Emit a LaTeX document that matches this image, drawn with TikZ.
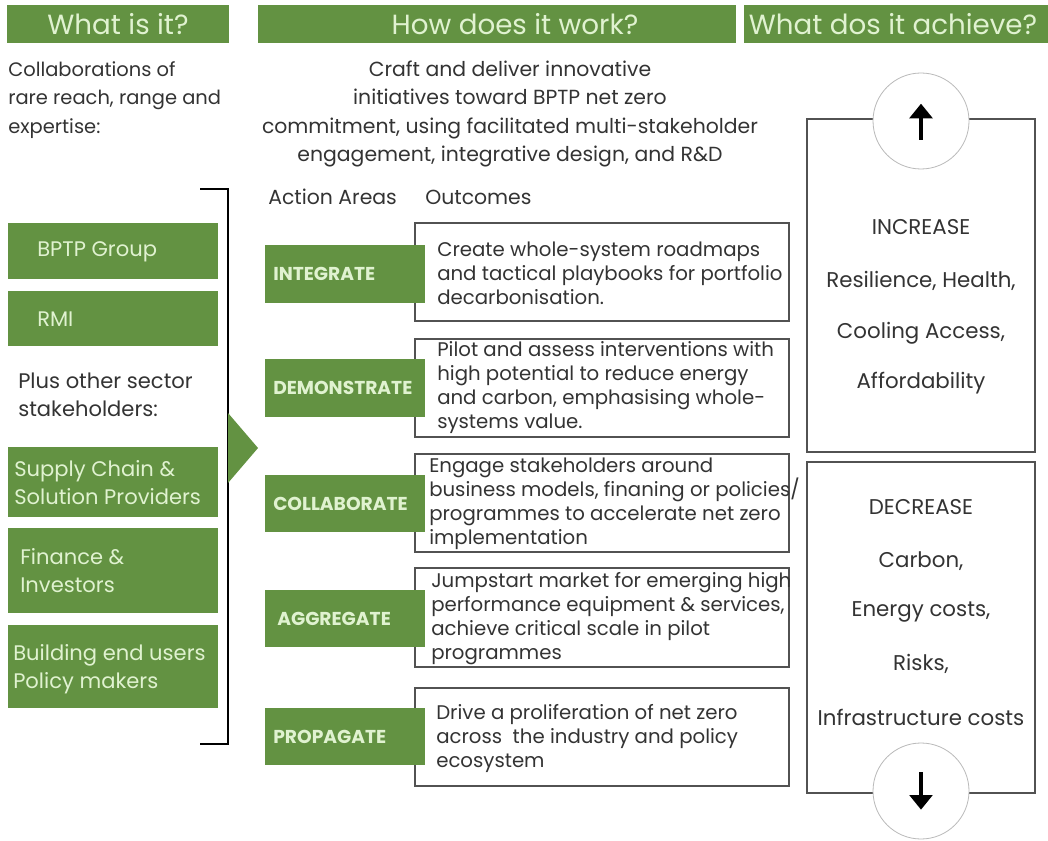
\documentclass[tikz,border=0pt]{standalone}
\usepackage{fontspec}
\setmainfont{Poppins}
\usetikzlibrary{arrows.meta}

\definecolor{leaf}{RGB}{99,146,66}
\definecolor{leaftext}{RGB}{224,242,208}
\definecolor{ink}{RGB}{51,51,51}

\begin{document}
\begin{tikzpicture}[x=0.75pt, y=-0.75pt,
		head/.style={text=leaftext, font=\fontsize{20.8}{24}\selectfont},
		body/.style={text=ink, inner sep=0pt, align=left, font=\fontsize{15.3}{21.4}\selectfont},
		member/.style={text=leaftext, inner sep=0pt, align=left, anchor=west, font=\fontsize{15.8}{21}\selectfont},
		area/.style={text=leaftext, inner sep=0pt, anchor=west, font=\bfseries\fontsize{14}{16}\selectfont},
		outcome/.style={text=ink, inner sep=0pt, align=left, anchor=west, font=\fontsize{14.8}{18}\selectfont},
		effect/.style={text=ink, inner sep=0pt, font=\fontsize{16}{18}\selectfont},
		outline/.style={draw=ink!85, line width=1.2pt},
		badge/.style={circle, draw=gray!55, fill=white, line width=0.6pt, minimum size=72pt},
		bigarrow/.style={-{Triangle[length=11pt, width=17pt]}, line width=3.2pt, black}]
	\useasboundingbox (0,0) rectangle (1048,841);
	
	% Column headers
	\fill[leaf] (7,5) rectangle (229,43);
	\fill[leaf] (258,5) rectangle (736,43);
	\fill[leaf] (744,5) rectangle (1048,43);
	\node[head] (what) at (118,24) {What is it?};
	\node[head] (how) at (515,24) {How does it work?};
	\node[head] (achieve) at (893,24) {What dos it achieve?};
	
	% Left column: who takes part
	\node[body, anchor=west, font=\fontsize{14.6}{21.4}\selectfont] (collab) at (8,100) {Collaborations of\\rare reach, range and\\expertise:};
	\fill[leaf] (8,223) rectangle (218,279);
	\node[member] (bptp) at (37,252) {BPTP Group};
	\fill[leaf] (8,291) rectangle (218,346);
	\node[member] (rmi) at (37,319) {RMI};
	\node[body, anchor=west, font=\fontsize{15.8}{21}\selectfont] (plus) at (18,395) {Plus other sector\\stakeholders:};
	\fill[leaf] (8,447) rectangle (218,517);
	\node[member] (supply) at (14,483) {Supply Chain \&\\Solution Providers};
	\fill[leaf] (8,528) rectangle (218,613);
	\node[member] (finance) at (20,571) {Finance \&\\Investors};
	\fill[leaf] (8,625) rectangle (218,708);
	\node[member] (users) at (13,669) {Building end users\\Policy makers};
	
	% Bracket with pointer
	\draw[line width=1.1pt, black] (200,189) -- (228,189) -- (228,744) -- (200,744);
	\fill[leaf] (228,413) -- (258,448) -- (228,483) -- cycle;
	
	% Middle column: how it works
	\node[body, align=center] (craft) at (510,114) {Craft and deliver innovative\\initiatives toward BPTP net zero\\commitment, using facilitated multi-stakeholder\\engagement, integrative design, and R\&D};
	\node[body, anchor=west] (areas) at (268,197) {Action Areas};
	\node[body, anchor=west] (outcomes) at (425,197) {Outcomes};
	
	% Outcome boxes first, action labels on top
	\draw[outline] (415,223) rectangle (789,321);
	\draw[outline] (415,339) rectangle (789,437);
	\draw[outline] (415,454) rectangle (789,552);
	\draw[outline] (415,568) rectangle (789,667);
	\draw[outline] (415,688) rectangle (789,786);
	
	\fill[leaf] (265,245) rectangle (425,303);
	\node[area] (integrate) at (273,274) {INTEGRATE};
	\fill[leaf] (265,359) rectangle (425,417);
	\node[area] (demonstrate) at (273,388) {DEMONSTRATE};
	\fill[leaf] (265,475) rectangle (425,532);
	\node[area] (collaborate) at (273,504) {COLLABORATE};
	\fill[leaf] (265,590) rectangle (425,647);
	\node[area] (aggregate) at (277,619) {AGGREGATE};
	\fill[leaf] (265,708) rectangle (425,765);
	\node[area] (propagate) at (273,737) {PROPAGATE};
	
	\node[outcome] (roadmaps) at (437,273) {Create whole-system roadmaps\\and tactical playbooks for portfolio\\decarbonisation.};
	\node[outcome] (pilot) at (437,388) {Pilot and assess interventions with\\high potential to reduce energy\\and carbon, emphasising whole-\\systems value.};
	\node[outcome] (engage) at (429,504) {Engage stakeholders around\\business models, finaning or policies/\\programmes to accelerate net zero\\implementation};
	\node[outcome] (jumpstart) at (431,619) {Jumpstart market for emerging high\\performance equipment \& services,\\achieve critical scale in pilot\\programmes};
	\node[outcome] (drive) at (436,738) {Drive a proliferation of net zero\\across\ \ the industry and policy\\ecosystem};
	
	% Right column: what it achieves
	\draw[outline] (807,119) rectangle (1035,452);
	\draw[outline] (807,462) rectangle (1035,793);
	\node[badge] (up) at (921,121) {};
	\draw[bigarrow] ([yshift=-14pt]up.center) -- ([yshift=13pt]up.center);
	\node[badge] (down) at (921,791) {};
	\draw[bigarrow] ([yshift=14pt]down.center) -- ([yshift=-14pt]down.center);
	
	\node[effect] (increase) at (921,227) {INCREASE};
	\node[effect] (resilience) at (921,281) {Resilience, Health,};
	\node[effect] (cooling) at (921,333) {Cooling Access,};
	\node[effect] (afford) at (921,383) {Affordability};
	\node[effect] (decrease) at (921,507) {DECREASE};
	\node[effect] (carbon) at (921,561) {Carbon,};
	\node[effect] (energy) at (921,612) {Energy costs,};
	\node[effect] (risks) at (921,664) {Risks,};
	\node[effect] (infra) at (921,717) {Infrastructure costs};
	
\end{tikzpicture}
\end{document}
